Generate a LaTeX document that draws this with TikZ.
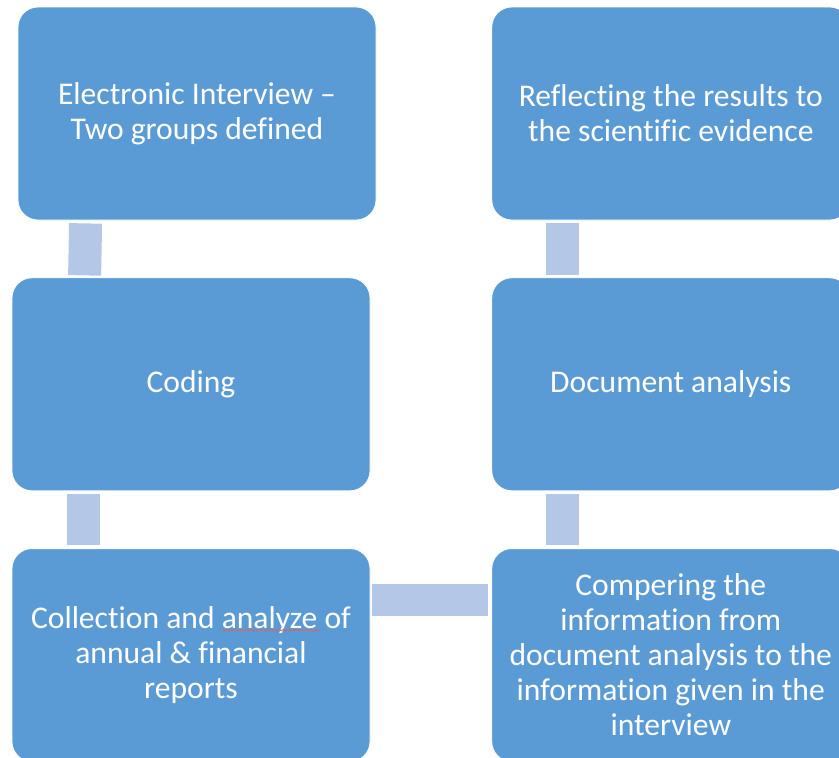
\documentclass[tikz,border=0pt]{standalone}
\usepackage{fontspec}
\setmainfont[Ligatures=NoCommon]{Carlito}
\usetikzlibrary{positioning,decorations.pathmorphing}
\definecolor{boxblue}{HTML}{5B9BD5}
\definecolor{linkblue}{HTML}{B4C7E7}
\definecolor{spell}{HTML}{E06060}

\begin{document}
\begin{tikzpicture}[
  x=1pt, y=-1pt,
  node distance=57pt and 115pt,
  box/.style={draw=white, line width=0.8pt, fill=boxblue, rounded corners=20pt,
              minimum width=358pt, minimum height=213pt, inner sep=0pt,
              align=center, text=white, font=\fontsize{31.6}{35}\selectfont},
  link/.style={draw=linkblue, line width=33pt},
  spellmark/.style={draw=spell, line width=0.8pt,
                    decorate, decoration={snake, segment length=4pt, amplitude=0.7pt}}
]
\useasboundingbox (0,0) rectangle (839,758);

% left column, top to bottom
\node[box] (intv) at (197,113.5) {Electronic Interview --\\Two groups defined};
\node[box, below=of intv, xshift=-6pt] (coding) {Coding};
\node[box, below=of coding] (collect) {Collection and analyze of\\annual \& financial\\reports};

% right column
\node[box, right=of intv] (reflect) {Reflecting the results to\\the scientific evidence};
\node[box, below=of reflect] (doc) {Document analysis};
\node[box, below=of doc] (comp) {Compering the\\information from\\document analysis to the\\information given in the\\interview};

% connector bars
\draw[link] ([shift={(68,3)}]intv.south west) -- ([shift={(73,-2)}]coding.north west);
\draw[link] ([shift={(71.5,3)}]coding.south west) -- ([shift={(71.5,-3)}]collect.north west);
\draw[link, line width=32pt] ([shift={(2,52)}]collect.north east) -- ([shift={(-3,52)}]comp.north west);
\draw[link] ([shift={(71.5,3)}]doc.south west) -- ([shift={(71.5,-3)}]comp.north west);
\draw[link] ([shift={(71.5,3)}]reflect.south west) -- ([shift={(71.5,-2)}]doc.north west);

\draw[spellmark] ([shift={(31,-25)}]collect.center) -- ([shift={(128,-25)}]collect.center);
\end{tikzpicture}
\end{document}
